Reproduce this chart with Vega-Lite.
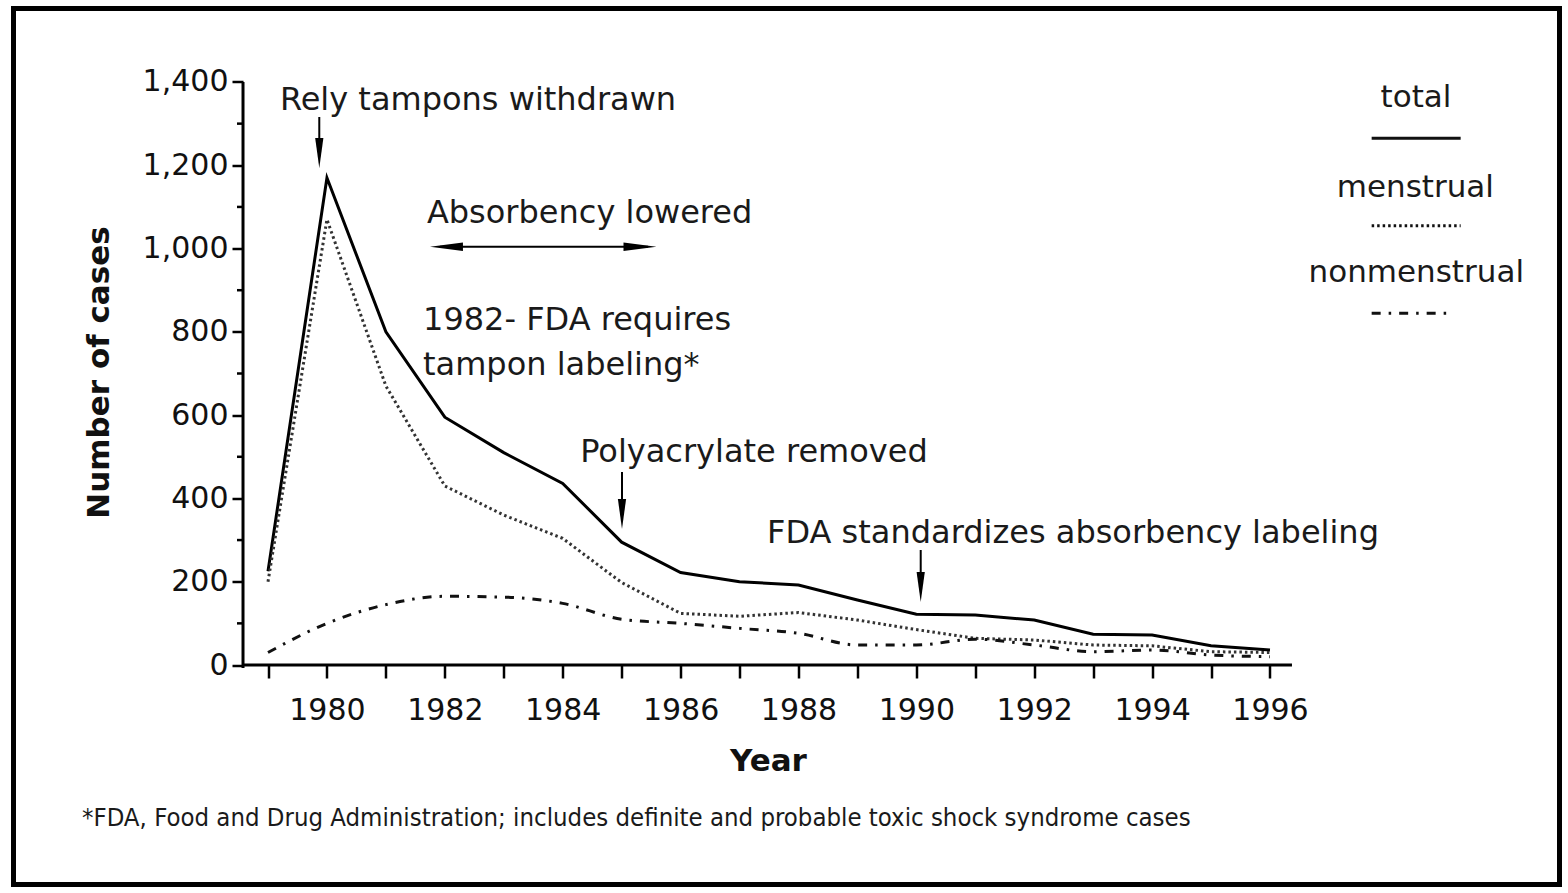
{
  "$schema": "https://vega.github.io/schema/vega-lite/v6.json",
  "width": 1546,
  "height": 876,
  "autosize": {"type": "none"},
  "padding": {"left": 13.5, "top": 8.5, "right": 8.5, "bottom": 8.5},
  "background": "white",
  "config": {"view": {"stroke": "black", "strokeWidth": 5}, "font": "DejaVu Sans"},
  "resolve": {"axis": {"x": "independent", "y": "independent"}},
  "datasets": {
    "cases": [
      {"year": 1979, "series": "total", "cases": 225}, {"year": 1980, "series": "total", "cases": 1170},
      {"year": 1981, "series": "total", "cases": 800}, {"year": 1982, "series": "total", "cases": 595},
      {"year": 1983, "series": "total", "cases": 510}, {"year": 1984, "series": "total", "cases": 436},
      {"year": 1985, "series": "total", "cases": 295}, {"year": 1986, "series": "total", "cases": 222},
      {"year": 1987, "series": "total", "cases": 200}, {"year": 1988, "series": "total", "cases": 192},
      {"year": 1989, "series": "total", "cases": 156}, {"year": 1990, "series": "total", "cases": 122},
      {"year": 1991, "series": "total", "cases": 120}, {"year": 1992, "series": "total", "cases": 108},
      {"year": 1993, "series": "total", "cases": 74}, {"year": 1994, "series": "total", "cases": 72},
      {"year": 1995, "series": "total", "cases": 46}, {"year": 1996, "series": "total", "cases": 36},
      {"year": 1979, "series": "menstrual", "cases": 200}, {"year": 1980, "series": "menstrual", "cases": 1070},
      {"year": 1981, "series": "menstrual", "cases": 670}, {"year": 1982, "series": "menstrual", "cases": 430},
      {"year": 1983, "series": "menstrual", "cases": 360}, {"year": 1984, "series": "menstrual", "cases": 304},
      {"year": 1985, "series": "menstrual", "cases": 198}, {"year": 1986, "series": "menstrual", "cases": 124},
      {"year": 1987, "series": "menstrual", "cases": 117}, {"year": 1988, "series": "menstrual", "cases": 126},
      {"year": 1989, "series": "menstrual", "cases": 108}, {"year": 1990, "series": "menstrual", "cases": 85},
      {"year": 1991, "series": "menstrual", "cases": 64}, {"year": 1992, "series": "menstrual", "cases": 60},
      {"year": 1993, "series": "menstrual", "cases": 48}, {"year": 1994, "series": "menstrual", "cases": 46},
      {"year": 1995, "series": "menstrual", "cases": 32}, {"year": 1996, "series": "menstrual", "cases": 30},
      {"year": 1979, "series": "nonmenstrual", "cases": 30}, {"year": 1980, "series": "nonmenstrual", "cases": 100},
      {"year": 1981, "series": "nonmenstrual", "cases": 145}, {"year": 1982, "series": "nonmenstrual", "cases": 165},
      {"year": 1983, "series": "nonmenstrual", "cases": 163}, {"year": 1984, "series": "nonmenstrual", "cases": 148},
      {"year": 1985, "series": "nonmenstrual", "cases": 110}, {"year": 1986, "series": "nonmenstrual", "cases": 100},
      {"year": 1987, "series": "nonmenstrual", "cases": 88}, {"year": 1988, "series": "nonmenstrual", "cases": 76},
      {"year": 1989, "series": "nonmenstrual", "cases": 48}, {"year": 1990, "series": "nonmenstrual", "cases": 48},
      {"year": 1991, "series": "nonmenstrual", "cases": 62}, {"year": 1992, "series": "nonmenstrual", "cases": 48},
      {"year": 1993, "series": "nonmenstrual", "cases": 32}, {"year": 1994, "series": "nonmenstrual", "cases": 36},
      {"year": 1995, "series": "nonmenstrual", "cases": 24}, {"year": 1996, "series": "nonmenstrual", "cases": 20}
    ],
    "axisLines": [
      {"x": 1978.576, "x2": 1978.576, "y": -7, "y2": 1400},
      {"x": 1978.576, "x2": 1996.373, "y": 0, "y2": 0}
    ],
    "minorTicks": [
      {"x": 1978.474, "x2": 1978.576, "y": 100}, {"x": 1978.474, "x2": 1978.576, "y": 300},
      {"x": 1978.474, "x2": 1978.576, "y": 500}, {"x": 1978.474, "x2": 1978.576, "y": 700},
      {"x": 1978.474, "x2": 1978.576, "y": 900}, {"x": 1978.474, "x2": 1978.576, "y": 1100},
      {"x": 1978.474, "x2": 1978.576, "y": 1300}
    ],
    "notesCenter": [
      {"text": "Rely tampons withdrawn", "x": 1982.563, "y": 1332.8},
      {"text": "Absorbency lowered", "x": 1984.456, "y": 1060.7},
      {"text": "Polyacrylate removed", "x": 1987.245, "y": 488.2},
      {"text": "FDA standardizes absorbency labeling", "x": 1992.658, "y": 293.0}
    ],
    "notesLeft": [
      {"text": "1982- FDA requires", "x": 1981.63, "y": 804.5},
      {"text": "tampon labeling*", "x": 1981.63, "y": 696.4}
    ],
    "footnote": [
      {"text": "*FDA, Food and Drug Administration; includes definite and probable toxic shock syndrome cases", "x": 1975.844, "y": -386.6}
    ],
    "arrowLines": [
      {"x": 1979.87, "x2": 1979.87, "y": 1316.0, "y2": 1260.7},
      {"x": 1985.006, "x2": 1985.006, "y": 463.5, "y2": 396.2},
      {"x": 1990.074, "x2": 1990.074, "y": 276.2, "y2": 216.1},
      {"x": 1981.918, "x2": 1985.447, "y": 1004.5, "y2": 1004.5}
    ],
    "arrowHeads": [
      {"x": 1979.87, "y": 1229.5, "dir": "down"},
      {"x": 1985.006, "y": 362.6, "dir": "down"},
      {"x": 1990.074, "y": 187.3, "dir": "down"},
      {"x": 1982.028, "y": 1004.5, "dir": "left"},
      {"x": 1985.311, "y": 1004.5, "dir": "right"}
    ],
    "legendText": [
      {"text": "total", "x": 1998.477, "y": 1340.7},
      {"text": "menstrual", "x": 1998.466, "y": 1124.6},
      {"text": "nonmenstrual", "x": 1998.482, "y": 920.4}
    ],
    "legendLines": [
      {"series": "total", "x": 1997.725, "x2": 1999.235, "y": 1264.8},
      {"series": "menstrual", "x": 1997.725, "x2": 1999.235, "y": 1054.9},
      {"series": "nonmenstrual", "x": 1997.725, "x2": 1999.104, "y": 844.6}
    ]
  },
  "layer": [
    {
      "data": {"name": "cases"},
      "transform": [{"filter": "datum.series === 'total'"}],
      "mark": {"type": "line", "color": "black", "strokeWidth": 3, "interpolate": "linear"},
      "encoding": {
        "x": {
          "field": "year", "type": "quantitative", "title": "Year",
          "scale": {"domain": [1974.682, 2000.912], "nice": false, "zero": false},
          "axis": {
            "values": [1979, 1980, 1981, 1982, 1983, 1984, 1985, 1986, 1987, 1988, 1989, 1990, 1991, 1992, 1993, 1994, 1995, 1996],
            "format": "d",
            "labelExpr": "datum.value % 2 == 0 ? datum.label : ''",
            "offset": -219.5, "domain": false, "grid": false,
            "tickSize": 13, "tickWidth": 2.5, "tickColor": "black",
            "labelFontSize": 30, "labelColor": "#111", "labelPadding": 17,
            "labelOverlap": false, "labelFlush": false,
            "titleFontSize": 31, "titleFontWeight": "bold", "titleColor": "#111",
            "titleX": 754.5, "titleY": 105, "titleBaseline": "alphabetic", "titleAlign": "center"
          }
        },
        "y": {
          "field": "cases", "type": "quantitative", "title": "Number of cases",
          "scale": {"domain": [-527.1, 1576.5], "nice": false, "zero": false},
          "axis": {
            "values": [0, 200, 400, 600, 800, 1000, 1200, 1400],
            "format": ",d",
            "offset": -229.5, "domain": false, "grid": false,
            "tickSize": 11,
            "tickWidth": 2.5, "tickColor": "black",
            "labelFontSize": 30, "labelColor": "#111", "labelPadding": 4,
            "labelOverlap": false, "labelFlush": false,
            "titleFontSize": 31, "titleFontWeight": "bold", "titleColor": "#111",
            "titleX": -135, "titleY": 363.5, "titleBaseline": "alphabetic", "titleAlign": "center"
          }
        }
      }
    },
    {
      "data": {"name": "cases"},
      "transform": [{"filter": "datum.series === 'menstrual'"}],
      "mark": {"type": "line", "color": "#333", "strokeWidth": 3, "strokeDash": [2.5, 3], "interpolate": "linear"},
      "encoding": {
        "x": {"field": "year", "type": "quantitative", "scale": {"domain": [1974.682, 2000.912], "nice": false, "zero": false}, "axis": null},
        "y": {"field": "cases", "type": "quantitative", "scale": {"domain": [-527.1, 1576.5], "nice": false, "zero": false}, "axis": null}
      }
    },
    {
      "data": {"name": "cases"},
      "transform": [{"filter": "datum.series === 'nonmenstrual'"}],
      "mark": {"type": "line", "color": "#111", "strokeWidth": 3, "strokeDash": [9, 8, 2.5, 8], "interpolate": "monotone"},
      "encoding": {
        "x": {"field": "year", "type": "quantitative", "scale": {"domain": [1974.682, 2000.912], "nice": false, "zero": false}, "axis": null},
        "y": {"field": "cases", "type": "quantitative", "scale": {"domain": [-527.1, 1576.5], "nice": false, "zero": false}, "axis": null}
      }
    },
    {
      "data": {"name": "axisLines"},
      "mark": {"type": "rule", "color": "black", "strokeWidth": 3},
      "encoding": {
        "x": {"field": "x", "type": "quantitative", "scale": {"domain": [1974.682, 2000.912], "nice": false, "zero": false}, "axis": null},
        "x2": {"field": "x2"},
        "y": {"field": "y", "type": "quantitative", "scale": {"domain": [-527.1, 1576.5], "nice": false, "zero": false}, "axis": null},
        "y2": {"field": "y2"}
      }
    },
    {
      "data": {"name": "minorTicks"},
      "mark": {"type": "rule", "color": "black", "strokeWidth": 2.5},
      "encoding": {
        "x": {"field": "x", "type": "quantitative", "scale": {"domain": [1974.682, 2000.912], "nice": false, "zero": false}, "axis": null},
        "x2": {"field": "x2"},
        "y": {"field": "y", "type": "quantitative", "scale": {"domain": [-527.1, 1576.5], "nice": false, "zero": false}, "axis": null}
      }
    },
    {
      "data": {"name": "arrowLines"},
      "mark": {"type": "rule", "color": "black", "strokeWidth": 2},
      "encoding": {
        "x": {"field": "x", "type": "quantitative", "scale": {"domain": [1974.682, 2000.912], "nice": false, "zero": false}, "axis": null},
        "x2": {"field": "x2"},
        "y": {"field": "y", "type": "quantitative", "scale": {"domain": [-527.1, 1576.5], "nice": false, "zero": false}, "axis": null},
        "y2": {"field": "y2"}
      }
    },
    {
      "data": {"name": "arrowHeads"},
      "mark": {"type": "point", "filled": true, "color": "black", "opacity": 1, "size": 1000, "strokeWidth": 0},
      "encoding": {
        "x": {"field": "x", "type": "quantitative", "scale": {"domain": [1974.682, 2000.912], "nice": false, "zero": false}, "axis": null},
        "y": {"field": "y", "type": "quantitative", "scale": {"domain": [-527.1, 1576.5], "nice": false, "zero": false}, "axis": null},
        "shape": {
          "field": "dir", "type": "nominal", "legend": null,
          "scale": {"domain": ["down", "left", "right"], "range": ["M-0.26,-0.95L0.26,-0.95L0,0.95Z", "M1.04,-0.27L1.04,0.27L-1.04,0Z", "M-1.04,-0.27L-1.04,0.27L1.04,0Z"]}
        }
      }
    },
    {
      "data": {"name": "notesCenter"},
      "mark": {"type": "text", "font": "DejaVu Sans", "fontSize": 32, "align": "center", "baseline": "alphabetic", "color": "#1a1a1a"},
      "encoding": {
        "x": {"field": "x", "type": "quantitative", "scale": {"domain": [1974.682, 2000.912], "nice": false, "zero": false}, "axis": null},
        "y": {"field": "y", "type": "quantitative", "scale": {"domain": [-527.1, 1576.5], "nice": false, "zero": false}, "axis": null},
        "text": {"field": "text"}
      }
    },
    {
      "data": {"name": "notesLeft"},
      "mark": {"type": "text", "font": "DejaVu Sans", "fontSize": 32, "align": "left", "baseline": "alphabetic", "color": "#1a1a1a"},
      "encoding": {
        "x": {"field": "x", "type": "quantitative", "scale": {"domain": [1974.682, 2000.912], "nice": false, "zero": false}, "axis": null},
        "y": {"field": "y", "type": "quantitative", "scale": {"domain": [-527.1, 1576.5], "nice": false, "zero": false}, "axis": null},
        "text": {"field": "text"}
      }
    },
    {
      "data": {"name": "legendText"},
      "mark": {"type": "text", "font": "DejaVu Sans", "fontSize": 31, "align": "center", "baseline": "alphabetic", "color": "#1a1a1a"},
      "encoding": {
        "x": {"field": "x", "type": "quantitative", "scale": {"domain": [1974.682, 2000.912], "nice": false, "zero": false}, "axis": null},
        "y": {"field": "y", "type": "quantitative", "scale": {"domain": [-527.1, 1576.5], "nice": false, "zero": false}, "axis": null},
        "text": {"field": "text"}
      }
    },
    {
      "data": {"name": "legendLines"},
      "mark": {"type": "rule", "color": "#111", "strokeWidth": 3},
      "encoding": {
        "x": {"field": "x", "type": "quantitative", "scale": {"domain": [1974.682, 2000.912], "nice": false, "zero": false}, "axis": null},
        "x2": {"field": "x2"},
        "y": {"field": "y", "type": "quantitative", "scale": {"domain": [-527.1, 1576.5], "nice": false, "zero": false}, "axis": null},
        "strokeDash": {
          "field": "series", "type": "nominal", "legend": null,
          "scale": {"domain": ["total", "menstrual", "nonmenstrual"], "range": [[1, 0], [2.5, 3], [9, 8, 2.5, 8]]}
        }
      }
    },
    {
      "data": {"name": "footnote"},
      "mark": {"type": "text", "font": "DejaVu Sans Condensed", "fontSize": 25.5, "align": "left", "baseline": "alphabetic", "color": "#1a1a1a"},
      "encoding": {
        "x": {"field": "x", "type": "quantitative", "scale": {"domain": [1974.682, 2000.912], "nice": false, "zero": false}, "axis": null},
        "y": {"field": "y", "type": "quantitative", "scale": {"domain": [-527.1, 1576.5], "nice": false, "zero": false}, "axis": null},
        "text": {"field": "text"}
      }
    }
  ]
}
